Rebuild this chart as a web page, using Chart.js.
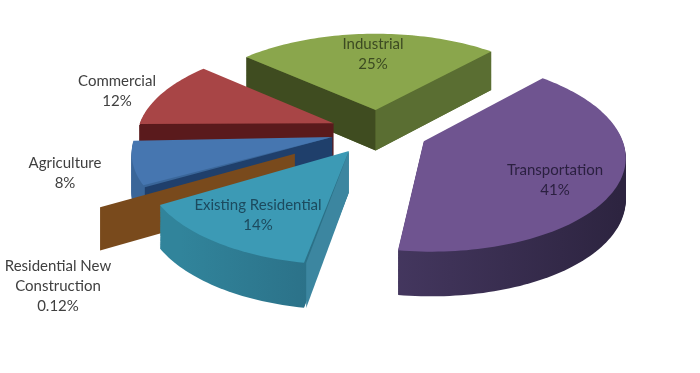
<!DOCTYPE html>
<html>
<head>
<meta charset="utf-8">
<style>
  html, body { margin: 0; padding: 0; background: #fff; }
  canvas { display: block; }
</style>
<script src="https://cdn.jsdelivr.net/npm/chart.js@4"></script>
</head>
<body>
<canvas id="pie3d" width="700" height="373"></canvas>
<script>
const categories = ['Industrial', 'Transportation', 'Existing Residential', 'Residential New Construction', 'Agriculture', 'Commercial'];
const shares = [25, 41, 14, 0.12, 8, 12];
const shareLabels = ['25%', '41%', '14%', '0.12%', '8%', '12%'];

// --- look of the slices ---
const topColors = ['#8aa64c', '#6f5490', '#3c9ab5', '#d9985a', '#4676b0', '#a84546'];
const rimLeft = ['#5a6e32', '#44375f', '#31849b', '#794a1c', '#3a6699', '#5a1a1c'];
const rimRight = ['#5a6e32', '#2d2440', '#2b7087', '#794a1c', '#3a6699', '#5a1a1c'];
const cutColors = ['#3f4c20', '#372b4c', '#3c86a0', '#794a1c', '#1f3f6b', '#5a1a1c'];
const labelColors = ['#3c4a22', '#2b2040', '#1c4a5e', '#404040', '#404040', '#404040'];
const explode = [46, 50, 50, 93, 47, 48];     // px, chart.js divides offset by 4
const paintOrder = [0, 5, 1, 4, 3, 2];

// --- label placement (centre x, first line y) ---
const labelX = [373, 555, 258, 58, 65, 117];
const labelY = [44, 170, 205, 266, 163, 81];
const labelWraps = { 3: ['Residential New', 'Construction'] };

const pieRadius = 196;
const tilt = 0.47;
const perspective = 0.0007;
const depth = 41;

// wraps the canvas context so that the arc element's path comes out in perspective
function perspectiveContext(ctx, cx, cy) {
    let tx = 0, ty = 0, stack = [];
    const state = { z: 0 };
    const pt = (x, y) => {
        const u = x + tx - cx, v = y + ty - cy;
        const s = 1 / (1 - perspective * v);
        return [cx + u * s, cy + tilt * v * s + state.z * (0.5 + 0.5 * s)];
    };
    const own = {
        save() { stack.push([tx, ty]); ctx.save(); },
        restore() { [tx, ty] = stack.pop(); ctx.restore(); },
        translate(x, y) { tx += x; ty += y; },
        moveTo(x, y) { const p = pt(x, y); ctx.moveTo(p[0], p[1]); },
        lineTo(x, y) { const p = pt(x, y); ctx.lineTo(p[0], p[1]); },
        arc(x, y, r, a0, a1, ccw) {
            const steps = Math.max(2, Math.ceil(Math.abs(a1 - a0) * 40));
            for (let i = 0; i <= steps; i++) {
                const a = a0 + (a1 - a0) * i / steps;
                own.lineTo(x + r * Math.cos(a), y + r * Math.sin(a));
            }
        }
    };
    return new Proxy(ctx, {
        get(t, k) {
            if (k === 'state') return state;
            if (own[k]) return own[k];
            const val = t[k];
            return typeof val === 'function' ? val.bind(t) : val;
        },
        set(t, k, val) { t[k] = val; return true; }
    });
}

function drawTinted(el, pctx, color) {
    const saved = el.options;
    el.options = Object.assign({}, saved, { backgroundColor: color, borderColor: color });
    el.draw(pctx);
    el.options = saved;
}

// left to right shading along the outer wall of one slice
function rimGradient(ctx, el, i) {
    const mid = (el.startAngle + el.endAngle) / 2;
    const ax = el.x + Math.cos(mid) * el.options.offset / 4;
    const xs = [];
    for (let n = 0; n <= 30; n++) {
        xs.push(ax + pieRadius * Math.cos(el.startAngle + (el.endAngle - el.startAngle) * n / 30));
    }
    const g = ctx.createLinearGradient(Math.min(...xs), 0, Math.max(...xs) + 1, 0);
    g.addColorStop(0, rimLeft[i]);
    g.addColorStop(1, rimRight[i]);
    return g;
}

function drawCutFace(el, pctx, angle, color) {
    const off = el.options.offset / 4;
    const mid = (el.startAngle + el.endAngle) / 2;
    const ax = el.x + Math.cos(mid) * off, ay = el.y + Math.sin(mid) * off;
    const bx = ax + Math.cos(angle) * pieRadius, by = ay + Math.sin(angle) * pieRadius;
    pctx.fillStyle = color;
    pctx.beginPath();
    pctx.state.z = 0;
    pctx.moveTo(ax, ay);
    pctx.lineTo(bx, by);
    pctx.state.z = depth;
    pctx.lineTo(bx, by);
    pctx.lineTo(ax, ay);
    pctx.closePath();
    pctx.fill();
    pctx.state.z = 0;
}

const pie3dPlugin = {
    id: 'pie3d',
    beforeDatasetDraw(chart, args) {
        const arcs = args.meta.data;
        const pctx = perspectiveContext(chart.ctx, arcs[0].x, arcs[0].y);
        paintOrder.forEach(i => {
            const el = arcs[i];
            // the arc element grows its radius by part of the offset, take that back out
            const fix = 1 - Math.sin(Math.min(Math.PI, el.circumference));
            el.outerRadius = pieRadius - el.options.offset / 4 * fix;
            const rim = rimGradient(chart.ctx, el, i);
            for (let z = depth; z > 0; z--) {
                pctx.state.z = z;
                drawTinted(el, pctx, rim);
            }
            pctx.state.z = 0;
            // the straight cut walls, only those turned towards the viewer
            if (Math.sin(el.startAngle - Math.PI / 2) > 0) drawCutFace(el, pctx, el.startAngle, cutColors[i]);
            if (Math.sin(el.endAngle + Math.PI / 2) > 0) drawCutFace(el, pctx, el.endAngle, i === 0 ? rimLeft[i] : cutColors[i]);
            el.draw(pctx);
        });
        return false;
    },
    afterDraw(chart) {
        const ctx = chart.ctx;
        ctx.save();
        ctx.font = '15px Lato';
        ctx.textAlign = 'center';
        ctx.textBaseline = 'middle';
        categories.forEach((name, i) => {
            const lines = (labelWraps[i] || [name]).concat(shareLabels[i]);
            ctx.fillStyle = labelColors[i];
            lines.forEach((line, n) => ctx.fillText(line, labelX[i], labelY[i] + n * 20));
        });
        ctx.restore();
    }
};

new Chart(document.getElementById('pie3d'), {
    type: 'pie',
    data: {
        labels: categories,
        datasets: [{
            data: shares,
            backgroundColor: topColors,
            borderWidth: 0,
            offset: explode.map(px => px * 4)
        }]
    },
    options: {
        responsive: false,
        animation: false,
        rotation: -48,
        radius: pieRadius,
        layout: { padding: { left: 56, bottom: 111 } },
        plugins: { legend: { display: false }, tooltip: { enabled: false } }
    },
    plugins: [pie3dPlugin]
});
</script>
</body>
</html>
